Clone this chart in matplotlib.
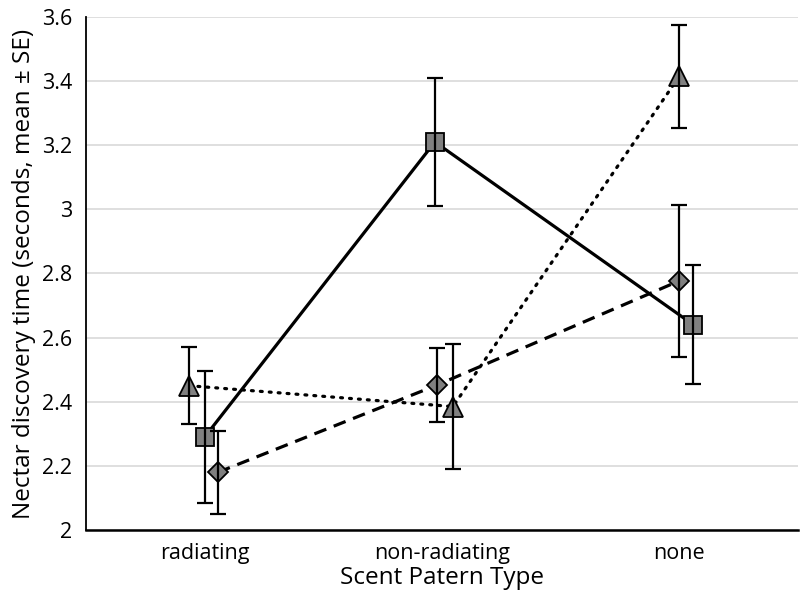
import numpy as np
import matplotlib
matplotlib.use('Agg')
import matplotlib.pyplot as plt

plt.rcParams['font.family'] = ['Open Sans', 'DejaVu Sans']

categories = ['radiating', 'non-radiating', 'none']

# three series (mean, SE)
tri_mean = [2.45, 2.385, 3.415]
tri_se = [0.12, 0.195, 0.16]

sq_mean = [2.29, 3.21, 2.64]
sq_se = [0.205, 0.20, 0.185]

dia_mean = [2.18, 2.452, 2.777]
dia_se = [0.13, 0.115, 0.237]

# small horizontal shifts so the error bars don't overlap
tri_shift = [-0.066, 0.046, 0.0]
sq_shift = [0.0, -0.03, 0.059]
dia_shift = [0.056, -0.021, 0.0]

fig = plt.figure(figsize=(8.0, 6.03), dpi=100)
ax = fig.add_axes([0.1075, 0.121, 0.89, 0.851])

x = np.arange(len(categories))
fill = '#808080'

series = [
    (tri_mean, tri_se, tri_shift, '^', 14.5, (0, (0.6, 2.2))),
    (sq_mean, sq_se, sq_shift, 's', 13.5, '-'),
    (dia_mean, dia_se, dia_shift, 'D', 10.5, (0, (4, 2.5))),
]

for mean, se, shift, mk, ms, ls in series:
    xs = x + np.array(shift)
    ax.plot(xs, mean, color='black', linestyle=ls, linewidth=2.3,
            dash_capstyle='round' if mk == '^' else 'butt', zorder=3)
    ax.plot(xs, mean, linestyle='none', marker=mk, markersize=ms,
            markerfacecolor=fill, markeredgecolor='black',
            markeredgewidth=1.3, zorder=4)
    ax.errorbar(xs, mean, yerr=se, fmt='none', ecolor='black',
                elinewidth=1.6, capsize=5.5, capthick=1.6, zorder=5)

ax.set_xlim(-0.5, 2.5)
ax.set_ylim(2.0, 3.6)
ax.set_yticks(np.arange(2.0, 3.61, 0.2))
ax.set_yticklabels(['2', '2.2', '2.4', '2.6', '2.8', '3', '3.2', '3.4', '3.6'])
ax.set_xticks(x)
ax.set_xticklabels(categories)

ax.grid(axis='y', color='#d9d9d9', linewidth=1.2, zorder=0)
ax.set_axisbelow(True)
ax.tick_params(axis='both', length=0, labelsize=15.5, pad=9)
ax.tick_params(axis='y', pad=10)

for s in ['top', 'right']:
    ax.spines[s].set_visible(False)
ax.spines['left'].set_linewidth(1.3)
ax.spines['bottom'].set_linewidth(1.8)

ax.set_xlabel('Scent Patern Type', fontsize=17.5, labelpad=2)
ax.set_ylabel('Nectar discovery time (seconds, mean \u00b1 SE)', fontsize=17.5, labelpad=4)

plt.savefig('out.png', dpi=100)
